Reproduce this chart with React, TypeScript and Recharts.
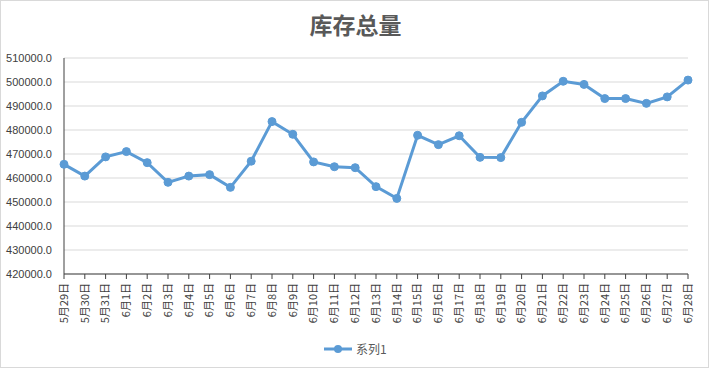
import { LineChart, Line, XAxis, YAxis, CartesianGrid } from "recharts";

const dates = [
  "5月29日", "5月30日", "5月31日", "6月1日", "6月2日", "6月3日", "6月4日", "6月5日",
  "6月6日", "6月7日", "6月8日", "6月9日", "6月10日", "6月11日", "6月12日", "6月13日",
  "6月14日", "6月15日", "6月16日", "6月17日", "6月18日", "6月19日", "6月20日", "6月21日",
  "6月22日", "6月23日", "6月24日", "6月25日", "6月26日", "6月27日", "6月28日",
];

const series1 = [
  465700, 460800, 468800, 471000, 466400, 458200, 460800, 461400,
  456100, 467000, 483500, 478200, 466700, 464700, 464300, 456400,
  451500, 477800, 473900, 477600, 468600, 468500, 483200, 494200,
  500300, 499000, 493100, 493100, 491100, 493800, 500800,
];

const yTicks = [420000, 430000, 440000, 450000, 460000, 470000, 480000, 490000, 500000, 510000];

const data = dates.map((d, i) => ({ date: d, value: series1[i] }));

const LINE_COLOR = "#5B9BD5";
const AXIS_COLOR = "#404040";

const DateTick = (props: any) => {
  const { x, y, payload } = props;
  return (
    <g transform={`translate(${x},${y})`}>
      <text
        transform="rotate(-90)"
        x={-2}
        y={0}
        dy="0.35em"
        textAnchor="end"
        fontSize={11}
        fontFamily="'Noto Sans CJK SC', sans-serif"
        fill={AXIS_COLOR}
      >
        {payload.value}
      </text>
    </g>
  );
};

export default function App() {
  return (
    <div
      style={{
        position: "absolute",
        left: 0,
        top: 0,
        width: 709,
        height: 368,
        boxSizing: "border-box",
        border: "1px solid #d9d9d9",
        background: "#fff",
      }}
    >
      <div
        style={{
          position: "absolute",
          top: 6,
          left: 0,
          width: 709,
          textAlign: "center",
          fontSize: 23,
          fontWeight: 700,
          color: "#595959",
          fontFamily: "'Noto Sans CJK SC', sans-serif",
        }}
      >
        库存总量
      </div>
      <div style={{ position: "absolute", left: -1, top: -1 }}>
        <LineChart
          width={709}
          height={368}
          data={data}
          margin={{ top: 58, right: 21, bottom: 44, left: 0 }}
        >
          <CartesianGrid vertical={false} stroke="#d9d9d9" strokeWidth={1} />
          <XAxis
            dataKey="date"
            interval={0}
            height={50}
            padding={{ left: 0, right: 0 }}
            stroke={AXIS_COLOR}
            tickSize={5}
            tick={<DateTick />}
          />
          <YAxis
            domain={[420000, 510000]}
            ticks={yTicks}
            width={64}
            tickLine={false}
            stroke={AXIS_COLOR}
            tickMargin={6}
            tickFormatter={(v: number) => v.toFixed(1)}
            tick={{ fontSize: 11, fill: AXIS_COLOR, fontFamily: "'Liberation Sans', sans-serif" }}
          />
          <Line
            type="linear"
            dataKey="value"
            name="系列1"
            stroke={LINE_COLOR}
            strokeWidth={3}
            dot={{ r: 4, fill: LINE_COLOR, stroke: LINE_COLOR, strokeWidth: 1 }}
            isAnimationActive={false}
          />
        </LineChart>
      </div>
      <div
        style={{
          position: "absolute",
          top: 339,
          left: 322,
          display: "flex",
          alignItems: "center",
          fontSize: 12,
          color: "#595959",
          fontFamily: "'Noto Sans CJK SC', sans-serif",
        }}
      >
        <svg width={30} height={16}>
          <line x1={1} y1={8} x2={29} y2={8} stroke={LINE_COLOR} strokeWidth={3} />
          <circle cx={15} cy={8} r={4} fill={LINE_COLOR} />
        </svg>
        <span style={{ marginLeft: 3 }}>系列1</span>
      </div>
    </div>
  );
}
